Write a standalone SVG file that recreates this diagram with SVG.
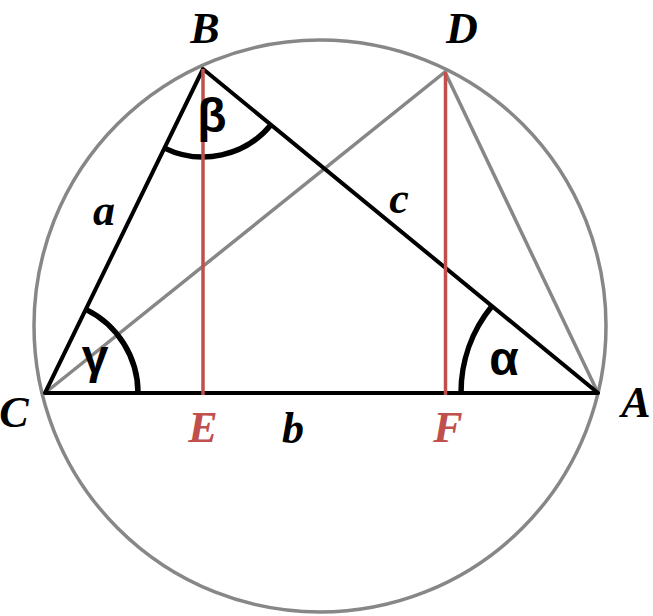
<svg xmlns="http://www.w3.org/2000/svg" width="653" height="616" viewBox="0 0 653 616">
<style>
.grey{fill:none;stroke:#878787;stroke-width:3.5}
.blk{fill:none;stroke:#000;stroke-width:4;stroke-linejoin:round;stroke-linecap:round}
.red{fill:none;stroke:#c0504d;stroke-width:3.5}
.arc{fill:none;stroke:#000;stroke-width:5.5}
.lbl{font-family:"Liberation Serif","Times New Roman",serif;font-weight:bold;font-style:italic;font-size:44px;fill:#000;text-anchor:middle}
.pt{fill:#c0504d}
.gk{font-family:"Liberation Sans",Arial,sans-serif;font-weight:bold;font-size:48px;fill:#000;text-anchor:middle}
</style>
<rect width="653" height="616" fill="#fff"/>
<g id="circle"><circle class="grey" cx="320" cy="326" r="286"/></g>
<g id="connectors">
<path class="grey" d="M45,393 L445,72 L598,393"/>
<path class="blk" d="M45,393 L203,69 L598,393 Z"/>
<path class="arc" d="M164.5,148.1 A88,88 0 0 0 271,124.8"/>
<path class="arc" d="M85.8,309.4 A93,93 0 0 1 138,393"/>
<path class="arc" d="M492,306 A137,137 0 0 0 461,393"/>
<line class="red" x1="203" y1="69" x2="203" y2="395"/>
<line class="red" x1="445.5" y1="72" x2="445.5" y2="395"/>
</g>
<g id="labels">
<text class="lbl" x="205" y="43">B</text>
<text class="lbl" x="462" y="43">D</text>
<text class="lbl" x="14" y="427">C</text>
<text class="lbl" x="636" y="417">A</text>
<text class="lbl pt" x="203" y="442">E</text>
<text class="lbl pt" x="448" y="442">F</text>
<text class="lbl" x="293" y="443">b</text>
<text class="lbl" x="104" y="225">a</text>
<text class="lbl" x="399" y="213">c</text>
<text class="gk" x="212" y="132">β</text>
<text class="gk" x="95" y="373">γ</text>
<text class="gk" x="504" y="375">α</text>
</g>
</svg>
